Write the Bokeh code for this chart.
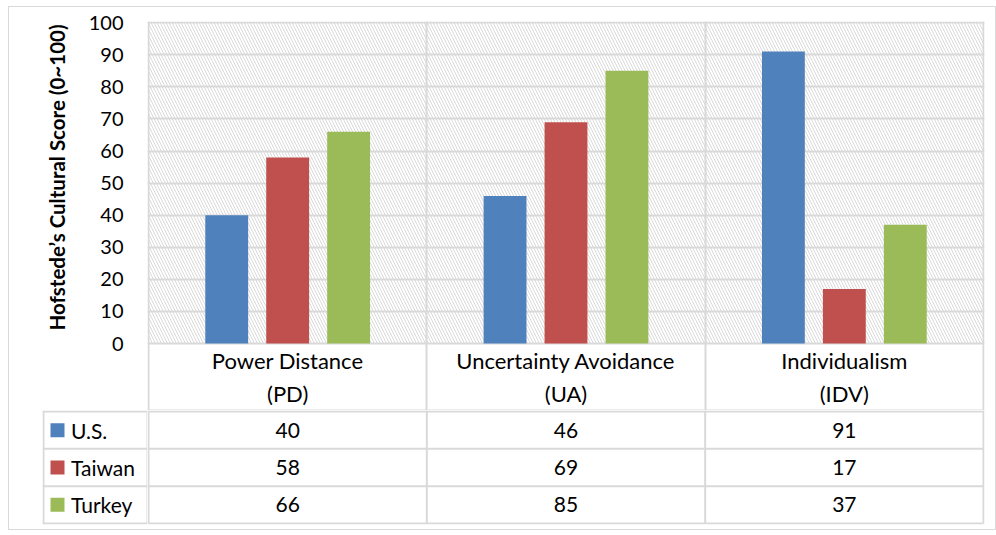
import numpy as np
from bokeh.plotting import figure
from bokeh.models import Range1d, FixedTicker, ColumnDataSource, Grid, Title
from bokeh.layouts import column, row
from bokeh.transform import dodge
from bokeh.embed import file_html
from bokeh.resources import INLINE
from bokeh.core.properties import value

# ---- data ----
categories = ["Power Distance\n(PD)", "Uncertainty Avoidance\n(UA)", "Individualism\n(IDV)"]
series_names = ["U.S.", "Taiwan", "Turkey"]
us = [40, 46, 91]
taiwan = [58, 69, 17]
turkey = [66, 85, 37]
y_ticks = list(range(0, 101, 10))
y_title = "Hofstede\u2019s Cultural Score (0~100)"

# ---- style / layout constants ----
colors = ["#4F81BD", "#C0504D", "#9BBB59"]
FONT = "Lato"
GRID = "#d9d9d9"
TXT = "#000000"
W = 986            # total width (inside the 1px border)
LEFT = 138         # space left of the plot area
RIGHT = 11
TOP_BORDER = 14
PLOT_PX = 321      # pixel height of 0..100
HEADER_PX = 67     # header row height (category names)
ROW_PX = 38        # data-table row height
LEG_LEFT = 33      # left edge of the legend column inside its figure
BOTTOM_PAD = 5
BAR_W = 0.154
STEP = 0.219

n = len(categories)
series = [us, taiwan, turkey]
m = len(series)
xc = np.arange(n) + 0.5
src = ColumnDataSource(dict(x=xc, s0=us, s1=taiwan, s2=turkey))

ymax = y_ticks[-1]
upx = ymax / PLOT_PX                      # data units per pixel
y_lo = -HEADER_PX * upx
y_hi = ymax + 1.2 * upx
cat_px = (W - LEFT - RIGHT) / n
xpad = 1.0 / cat_px

# ---- chart (bars + category header row) ----
p = figure(width=W, height=TOP_BORDER + PLOT_PX + HEADER_PX + 1,
           x_range=Range1d(-xpad, n + xpad), y_range=Range1d(y_lo, y_hi),
           output_backend="svg", toolbar_location=None, tools="",
           x_axis_location=None, min_border_left=LEFT, min_border_right=RIGHT,
           min_border_top=TOP_BORDER, min_border_bottom=0)
p.outline_line_color = None
p.quad(left=[0], right=[n], bottom=[y_ticks[0]], top=[ymax], fill_color="white",
       line_color=None, hatch_pattern="\\", hatch_color="#d9d9d9", hatch_weight=1,
       hatch_scale=6, level="image")
p.ygrid.ticker = FixedTicker(ticks=y_ticks)
p.ygrid.grid_line_color = GRID
p.ygrid.grid_line_width = 2
p.xgrid.visible = False
p.add_layout(Grid(dimension=0, ticker=FixedTicker(ticks=list(range(n + 1))),
                  grid_line_color=GRID, grid_line_width=2))

for i, c in enumerate(colors):
    p.vbar(x=dodge("x", (i - 1) * STEP, range=p.x_range), top="s%d" % i, width=BAR_W,
           source=src, fill_color=c, line_color=None)

p.text(x=xc, y=[y_lo / 2] * n, text=categories, text_align="center",
       text_baseline="middle", text_font=value(FONT), text_font_size="22px",
       text_color=TXT, text_line_height=1.22)
p.segment(x0=[0], x1=[n], y0=[y_lo], y1=[y_lo], line_color=GRID, line_width=2)

ax = p.yaxis[0]
ax.ticker = FixedTicker(ticks=y_ticks)
ax.axis_line_color = None
ax.major_tick_line_color = None
ax.minor_tick_line_color = None
ax.major_label_text_font = FONT
ax.major_label_text_font_size = "20px"
ax.major_label_text_color = TXT
ax.major_label_standoff = 18

# y title, centred over the 0..100 part of the axis (not over the header row)
p.add_layout(Title(text=y_title, align="left", vertical_align="top",
                   offset=HEADER_PX + 13, standoff=30,
                   text_font=FONT, text_font_style="bold", text_font_size="20.5px",
                   text_color=TXT), "left")

# ---- data table ----
TAB_H = m * ROW_PX + BOTTOM_PAD
rows_mid = [k + 0.5 for k in range(m)]
edges = list(range(m + 1))
ypad = 1.0 / ROW_PX

# legend column
tl = figure(width=LEFT, height=TAB_H, x_range=Range1d(0, 1), y_range=Range1d(m + ypad, -ypad),
            output_backend="svg", toolbar_location=None, tools="",
            x_axis_location=None, y_axis_location=None, min_border_left=LEG_LEFT,
            min_border_right=0, min_border_top=0, min_border_bottom=BOTTOM_PAD)
tl.outline_line_color = None
tl.grid.visible = False
lw = LEFT - LEG_LEFT
tl.segment(x0=[0] * len(edges), x1=[1] * len(edges), y0=edges, y1=edges,
           line_color=GRID, line_width=2)
tl.segment(x0=[1.0 / lw, 1], x1=[1.0 / lw, 1], y0=[-ypad, -ypad], y1=[m + ypad] * 2,
           line_color=GRID, line_width=2)
tl.scatter(x=[15.0 / lw] * m, y=rows_mid, marker="square", size=14,
           fill_color=colors, line_color=None)
tl.text(x=[28.5 / lw] * m, y=rows_mid, text=series_names, text_align="left",
        text_baseline="middle", text_font=value(FONT), text_font_size="21px",
        text_color=TXT)

# value cells
tr = figure(width=W - LEFT, height=TAB_H, x_range=Range1d(-xpad, n + xpad),
            y_range=Range1d(m + ypad, -ypad),
            output_backend="svg", toolbar_location=None, tools="",
            x_axis_location=None, y_axis_location=None, min_border_left=0,
            min_border_right=RIGHT, min_border_top=0, min_border_bottom=BOTTOM_PAD)
tr.outline_line_color = None
tr.grid.visible = False
tr.segment(x0=[-xpad] * len(edges), x1=[n] * len(edges), y0=edges, y1=edges,
           line_color=GRID, line_width=2)
tr.segment(x0=list(range(n + 1)), x1=list(range(n + 1)), y0=[-ypad] * (n + 1),
           y1=[m] * (n + 1), line_color=GRID, line_width=2)
for k, vals in enumerate(series):
    tr.text(x=xc, y=[rows_mid[k]] * n, text=[str(v) for v in vals], text_align="center",
            text_baseline="middle", text_font=value(FONT), text_font_size="21px",
            text_color=TXT)

layout = column(p, row(tl, tr, spacing=0), spacing=0, margin=(6, 0, 0, 8),
                styles={"border": "1px solid #d9d9d9"})
open("out.html", "w").write(file_html(layout, INLINE))
